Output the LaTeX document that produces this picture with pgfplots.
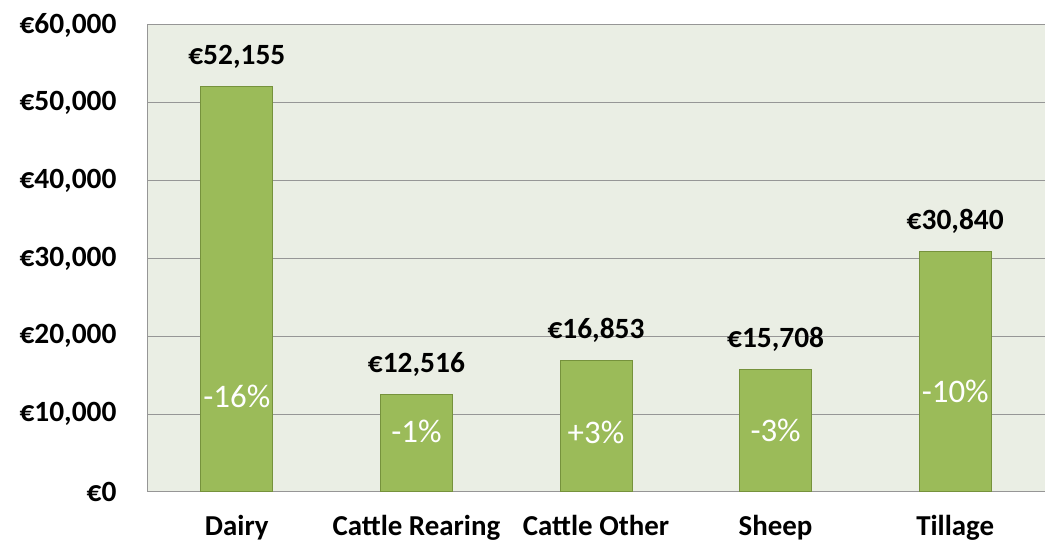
\documentclass[border=0pt]{standalone}
\usepackage{fontspec}
\setmainfont{Carlito}
\usepackage{pgfplots}
\pgfplotsset{compat=1.18}
\definecolor{BarGreen}{RGB}{155,187,89}
\definecolor{BarEdge}{RGB}{118,146,60}
\definecolor{PlotBg}{RGB}{234,238,228}
\definecolor{GridGray}{RGB}{150,150,150}

\begin{document}
\begin{tikzpicture}[x=1bp,y=1bp]
\useasboundingbox (0,0) rectangle (1045,545);
\begin{axis}[
    at={(147bp,53bp)},
    anchor=south west,
    scale only axis,
    width=898bp,
    height=467bp,
    xmin=-0.5, xmax=4.5,
    ymin=0, ymax=60000,
    scaled y ticks=false,
    xtick={0,1,2,3,4},
    xticklabels={Dairy,Cattle Rearing,Cattle Other,Sheep,Tillage},
    ytick={0,10000,20000,30000,40000,50000,60000},
    yticklabels={{€0},{€10,000},{€20,000},{€30,000},{€40,000},{€50,000},{€60,000}},
    yticklabel style={font=\fontsize{29.5}{32}\selectfont\bfseries, anchor=east, xshift=-27bp},
    xticklabel style={font=\fontsize{29}{32}\selectfont\bfseries, anchor=base, yshift=-44bp},
    major tick length=0pt,
    axis background/.style={fill=PlotBg},
    ymajorgrids,
    major grid style={draw=GridGray, line width=1bp},
    axis line style={draw=GridGray, line width=1bp},
    axis x line*=bottom,
    axis y line*=left,
    clip=false,
]
\addplot[
    ybar,
    bar width=72bp,
    fill=BarGreen,
    draw=BarEdge,
    line width=1bp,
    nodes near coords,
    point meta=explicit symbolic,
    every node near coord/.append style={font=\fontsize{29.5}{32}\selectfont\bfseries, color=black, anchor=base, yshift=22bp},
] coordinates {
    (0,52155) [{€52,155}]
    (1,12516) [{€12,516}]
    (2,16853) [{€16,853}]
    (3,15708) [{€15,708}]
    (4,30840) [{€30,840}]
};
% change vs previous year, written inside the bars
\addplot[
    draw=none,
    mark=none,
    nodes near coords,
    point meta=explicit symbolic,
    every node near coord/.append style={font=\fontsize{33}{36}\selectfont, color=white, anchor=center},
] coordinates {
    (0,12300) [-16\%]
    (1,7800) [-1\%]
    (2,7600) [+3\%]
    (3,7900) [-3\%]
    (4,12900) [-10\%]
};
\draw[GridGray, line width=1bp] (rel axis cs:0,1) -- (rel axis cs:1,1);
\end{axis}
\end{tikzpicture}
\end{document}
